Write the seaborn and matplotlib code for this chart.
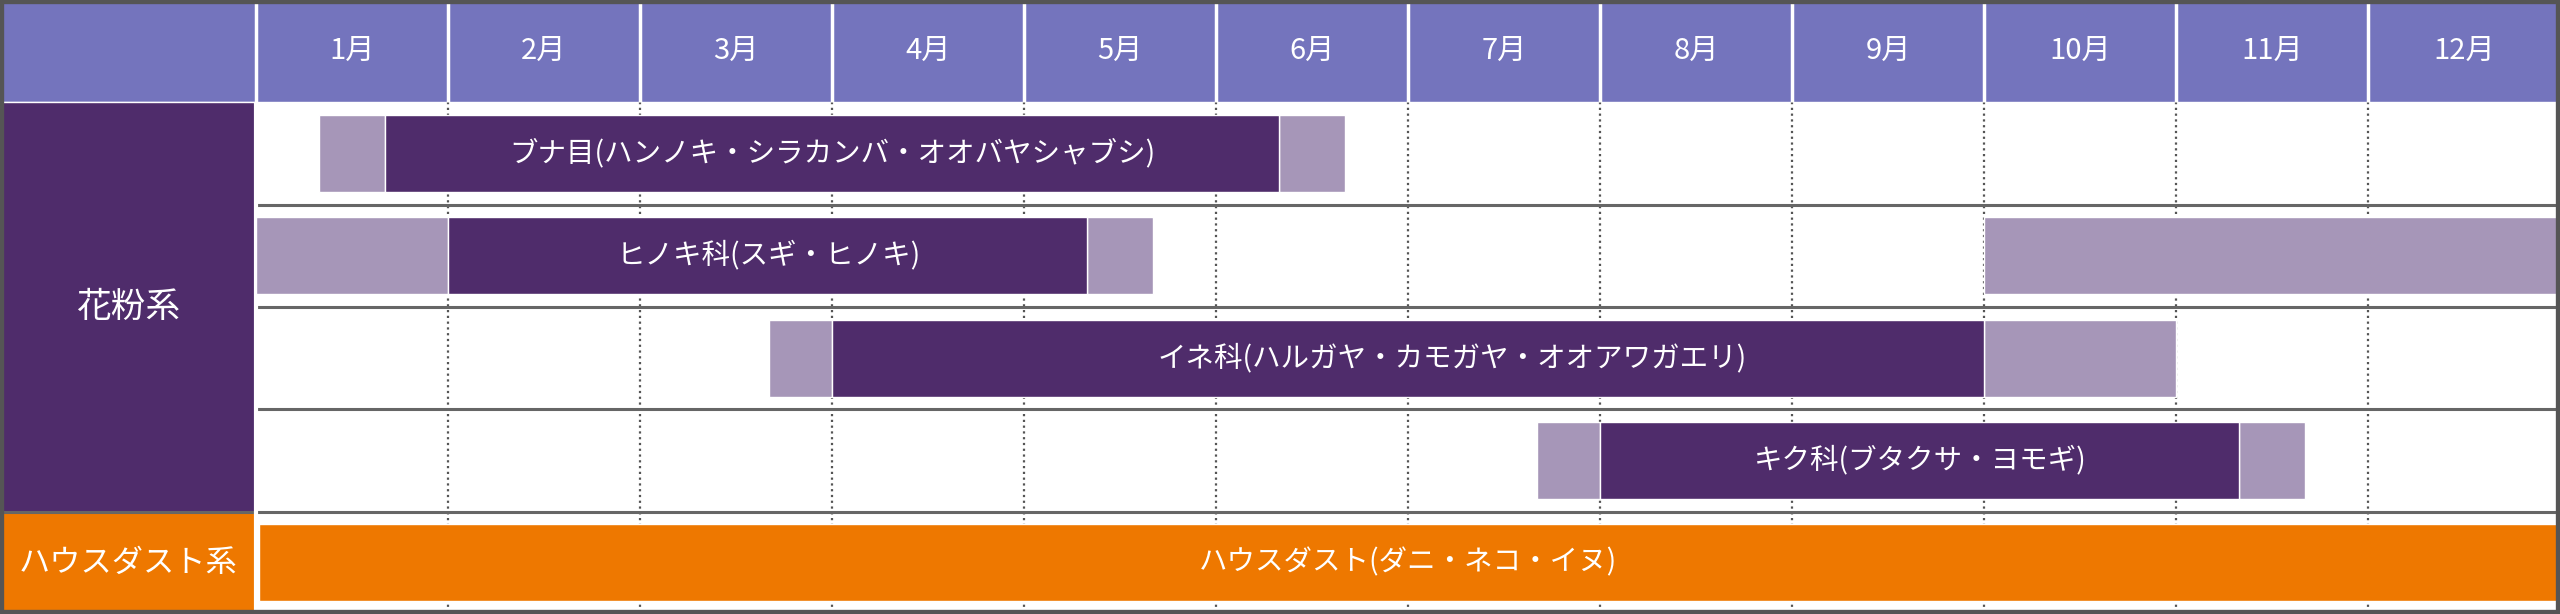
import matplotlib
matplotlib.use('Agg')
import matplotlib.pyplot as plt
import seaborn as sns

# ---- data ----
months = ['1月', '2月', '3月', '4月', '5月', '6月',
          '7月', '8月', '9月', '10月', '11月', '12月']
groups = ['花粉系', 'ハウスダスト系']

pollen_names = ['ブナ目(ハンノキ・シラカンバ・オオバヤシャブシ)',
                'ヒノキ科(スギ・ヒノキ)',
                'イネ科(ハルガヤ・カモガヤ・オオアワガエリ)',
                'キク科(ブタクサ・ヨモギ)']
# main season (months counted from 1 Jan)
peak_start = [0.67, 1.0, 3.0, 7.0]
peak_end = [5.33, 4.33, 9.0, 10.33]
# lighter edges of the season
edge_start = [[0.33, 5.33], [0.0, 4.33, 9.0], [2.67, 9.0], [6.67, 10.33]]
edge_end = [[0.67, 5.67], [1.0, 4.67, 12.0], [3.0, 10.0], [7.0, 10.67]]
label_pos = [3.0, 2.67, 6.23, 8.67]

dust_name = 'ハウスダスト(ダニ・ネコ・イヌ)'
dust_start = 0.0
dust_end = 12.0

# ---- style ----
sns.set_theme(style='white')
plt.rcParams['font.family'] = ['Noto Sans CJK JP', 'DejaVu Sans']

c_head = '#7474bd'
c_purple = '#4f2c6b'
c_light = '#a696b8'
c_orange = '#ee7800'
c_line = '#555555'

fig = plt.figure(figsize=(25.6, 6.14), dpi=100)
ax = fig.add_axes([0, 0, 1, 1])
left_w = 256 / 192
ax.set_xlim(-left_w, 12)
ax.set_ylim(6, 0)

# header
ax.barh(0.5, 12 + left_w, left=-left_w, height=1, color=c_head, zorder=1)
ax.vlines(range(0, 12), 0, 1, colors='white', lw=2.5, zorder=2)
for i, m in enumerate(months):
    ax.text(i + 0.5, 0.5, m, color='white', fontsize=21, ha='center', va='center', zorder=3)

# left group cells
ax.barh(3, left_w, left=-left_w, height=4, color=c_purple, zorder=1)
ax.barh(5.5, left_w, left=-left_w, height=1, color=c_orange, zorder=1)
ax.text(-left_w / 2, 3, groups[0], color='white', fontsize=25, ha='center', va='center')
ax.text(-left_w / 2, 5.5, groups[1], color='white', fontsize=22.5, ha='center', va='center')

# grid lines in the body
ax.vlines(range(1, 12), 1, 6, colors=c_line, lw=1.6, linestyles=(0, (1, 1.6)), zorder=1)
ax.hlines([2, 3, 4], 0, 12, colors='#666666', lw=2.2, zorder=1)
ax.hlines(5, -left_w, 12, colors='#666666', lw=2.2, zorder=1)
ax.vlines(0, 1, 6, colors='white', lw=3, zorder=2)

# pollen bars
bh = 0.75
for i, name in enumerate(pollen_names):
    y = i + 1.5
    for s, e in zip(edge_start[i], edge_end[i]):
        ax.barh(y, e - s, left=s, height=bh, color=c_light, zorder=3)
    ax.barh(y, peak_end[i] - peak_start[i], left=peak_start[i], height=bh,
            color=c_purple, zorder=4)
    ax.text(label_pos[i], y, name, color='white', fontsize=20.5,
            ha='center', va='center', zorder=5)

# house dust bar
ax.barh(5.5, dust_end - dust_start, left=dust_start + 0.015, height=bh,
        color=c_orange, zorder=3)
ax.text((dust_start + dust_end) / 2, 5.5, dust_name, color='white', fontsize=20.5,
        ha='center', va='center', zorder=5)

ax.set_xticks([])
ax.set_yticks([])
for sp in ax.spines.values():
    sp.set_visible(True)
    sp.set_color(c_line)
    sp.set_linewidth(6)
    sp.set_zorder(10)

fig.savefig('out.png', dpi=100)
